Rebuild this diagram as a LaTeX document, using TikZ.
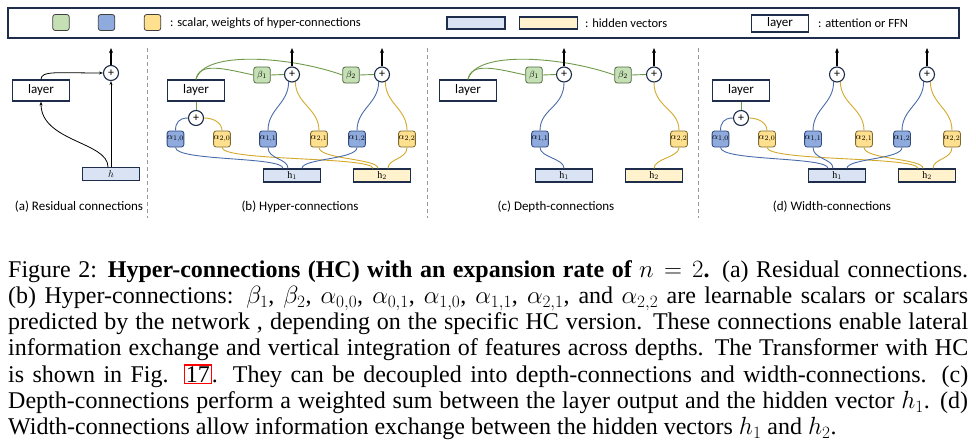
\documentclass[tikz,border=0pt]{standalone}
\usepackage{fontspec}
\setmainfont{Liberation Serif}
\newfontfamily\calibri{Carlito}
\usetikzlibrary{arrows.meta}

\definecolor{navy}{HTML}{1E2D4B}
\definecolor{hblue}{HTML}{DAE3F3}
\definecolor{hyellow}{HTML}{FFF2CC}
\definecolor{ablue}{HTML}{8FAADC}
\definecolor{ablueline}{HTML}{2E4A7D}
\definecolor{ayellow}{HTML}{FFE08F}
\definecolor{ayellowline}{HTML}{7F6A2E}
\definecolor{bgreen}{HTML}{C5E0B4}
\definecolor{bgreenline}{HTML}{4F6B40}
\definecolor{lblue}{HTML}{4A6BAA}
\definecolor{lyellow}{HTML}{D4A82A}
\definecolor{lgreen}{HTML}{6E9A4A}

\newcommand{\linkbox}[1]{{\setlength{\fboxsep}{0.8pt}\setlength{\fboxrule}{1.3pt}\color{red}\fbox{\color{black}#1}}}

\begin{document}
\begin{tikzpicture}[x=1pt,y=1pt]
  \tikzstyle{layerbox}=[draw=navy, line width=1.2pt, fill=white, minimum width=57pt, minimum height=21pt, inner sep=0pt, font=\calibri\fontsize{13}{14}\selectfont]
  \tikzstyle{hbox}=[draw=navy, line width=1.2pt, minimum width=57pt, minimum height=13pt, inner sep=0pt, font=\fontsize{10}{10}\selectfont]
  \tikzstyle{wgt}=[rounded corners=2.5pt, line width=0.8pt, minimum width=16.5pt, minimum height=16pt, inner sep=0pt, font=\fontsize{9.5}{10}\selectfont]
  \tikzstyle{alphaone}=[wgt, fill=ablue, draw=ablueline]
  \tikzstyle{alphatwo}=[wgt, fill=ayellow, draw=ayellowline]
  \tikzstyle{betabox}=[wgt, fill=bgreen, draw=bgreenline]
  \tikzstyle{keysq}=[wgt, draw=black!75]
  \tikzstyle{plusnode}=[circle, draw=navy, line width=1.1pt, fill=white, minimum size=15pt, inner sep=0pt, font=\calibri\fontsize{12}{12}\selectfont]
  \tikzstyle{keytext}=[anchor=west, inner sep=0pt, font=\calibri\fontsize{12.5}{14}\selectfont]
  \tikzstyle{panelcap}=[inner sep=0pt, font=\calibri\fontsize{13}{14}\selectfont]
  \tikzstyle{bline}=[draw=lblue, line width=0.9pt]
  \tikzstyle{yline}=[draw=lyellow, line width=0.9pt]
  \tikzstyle{gline}=[draw=lgreen, line width=0.9pt]
  \tikzstyle{tip}=[-{Stealth[length=4pt,width=3pt]}, line width=0.8pt]
  \tikzstyle{outarrow}=[-{Stealth[length=5pt,width=4pt]}, line width=1.2pt]
  \tikzstyle{sepline}=[draw=black!40, line width=1pt, dash pattern=on 4pt off 3pt]

  \useasboundingbox (0,0) rectangle (976,-445);

  % legend
  \node[draw=navy, line width=1.4pt, minimum width=951pt, minimum height=30pt, inner sep=0pt] (key) at (483.5,-23) {};
  \node[keysq, fill=bgreen] (key_g) at (61,-22.5) {};
  \node[keysq, fill=ablue] (key_b) at (106.5,-22.5) {};
  \node[keysq, fill=ayellow] (key_y) at (152.5,-22.5) {};
  \node[keytext] (key_wtext) at (170,-23) {: scalar, weights of hyper-connections};
  \node[hbox, fill=hblue, minimum width=58pt, minimum height=12pt] (key_h1) at (476,-23) {};
  \node[hbox, fill=hyellow, minimum width=58pt, minimum height=12pt] (key_h2) at (548.5,-23) {};
  \node[keytext] (key_htext) at (585,-23) {: hidden vectors};
  \node[layerbox, minimum height=17pt] (key_layer) at (780,-23.5) {layer};
  \node[keytext] (key_ltext) at (818,-23) {: attention or FFN};

  % separators
  \draw[sepline] (147,-48) -- (147,-218);
  \draw[sepline] (427,-48) -- (427,-218);
  \draw[sepline] (698,-48) -- (698,-218);

  % (a) residual
  \node[layerbox] (A_layer) at (41,-90.5) {layer};
  \node[plusnode] (A_plus) at (111,-73) {+};
  \node[hbox, fill=hblue] (A_h) at (111,-174) {$h$};
  \coordinate (A_out) at (111,-48);
  \draw[outarrow] (A_plus.north) -- (A_out);
  \draw[tip] (A_h.north) -- (A_plus.south);
  \draw[tip] (A_layer.north) .. controls +(0,9) and +(-45,0) .. (A_plus.west);
  \draw[tip] ([xshift=-3pt]A_h.north) .. controls +(0,25) and +(0,-40) .. (A_layer.south);
  \node[panelcap] (A_cap) at (79,-207) {(a) Residual connections};

  % (b) hyper-connections
  \node[layerbox] (B_layer) at (196,-90.5) {layer};
  \node[plusnode] (B_p0) at (196,-118) {+};
  \node[plusnode] (B_p1) at (292,-74.5) {+};
  \node[plusnode] (B_p2) at (382,-74.5) {+};
  \node[betabox] (B_b1) at (262,-75) {$\beta_1$};
  \node[betabox] (B_b2) at (351,-75) {$\beta_2$};
  \node[alphaone] (B_a10) at (175.5,-139) {$\alpha_{1,0}$};
  \node[alphatwo] (B_a20) at (222,-139) {$\alpha_{2,0}$};
  \node[alphaone] (B_a11) at (268,-139) {$\alpha_{1,1}$};
  \node[alphatwo] (B_a21) at (319,-139) {$\alpha_{2,1}$};
  \node[alphaone] (B_a12) at (357,-139) {$\alpha_{1,2}$};
  \node[alphatwo] (B_a22) at (407,-139) {$\alpha_{2,2}$};
  \node[hbox, fill=hblue] (B_h1) at (292,-175.5) {$\mathrm{h}_1$};
  \node[hbox, fill=hyellow] (B_h2) at (382,-175.5) {$\mathrm{h}_2$};
  \coordinate (B_o1) at (292,-48);
  \coordinate (B_o2) at (382,-48);

  \draw[gline] (B_layer.north) .. controls +(3,18) and +(-28,6) .. (B_b1.west);
  \draw[gline] (B_layer.north) .. controls +(8,30) and +(-50,18) .. (B_b2.west);
  \draw[gline] (B_b1.east) -- (B_p1.west);
  \draw[gline] (B_b2.east) -- (B_p2.west);
  \draw[gline] (B_layer.south) -- (B_p0.north);
  \draw[bline] (B_p0.west) .. controls +(-9,0) and +(0,8) .. (B_a10.north);
  \draw[yline] (B_p0.east) .. controls +(9,0) and +(0,8) .. (B_a20.north);
  \draw[bline] (B_p1.-115) .. controls +(0,-22) and +(0,22) .. (B_a11.north);
  \draw[yline] (B_p1.-65) .. controls +(0,-22) and +(0,22) .. (B_a21.north);
  \draw[bline] (B_p2.-115) .. controls +(0,-22) and +(0,22) .. (B_a12.north);
  \draw[yline] (B_p2.-65) .. controls +(0,-22) and +(0,22) .. (B_a22.north);
  \draw[bline] (B_a10.south) .. controls +(0,-14) and +(0,12) .. ([xshift=-9pt]B_h1.north);
  \draw[yline] (B_a20.south) .. controls +(0,-14) and +(0,12) .. ([xshift=-9pt]B_h2.north);
  \draw[bline] (B_a11.south) .. controls +(0,-12) and +(0,10) .. ([xshift=-4pt]B_h1.north);
  \draw[yline] (B_a21.south) .. controls +(0,-12) and +(0,10) .. ([xshift=-4pt]B_h2.north);
  \draw[bline] (B_a12.south) .. controls +(0,-12) and +(0,10) .. ([xshift=10pt]B_h1.north);
  \draw[yline] (B_a22.south) .. controls +(0,-12) and +(0,10) .. ([xshift=6pt]B_h2.north);
  \draw[outarrow] (B_p1.north) -- (B_o1);
  \draw[outarrow] (B_p2.north) -- (B_o2);
  \node[panelcap] (B_cap) at (300,-207) {(b) Hyper-connections};

  % (c) depth-connections
  \begin{scope}[xshift=272pt]
  \node[layerbox] (C_layer) at (196,-90.5) {layer};
  \node[plusnode] (C_p1) at (292,-74.5) {+};
  \node[plusnode] (C_p2) at (382,-74.5) {+};
  \node[betabox] (C_b1) at (262,-75) {$\beta_1$};
  \node[betabox] (C_b2) at (351,-75) {$\beta_2$};
  \node[alphaone] (C_a11) at (268,-139) {$\alpha_{1,1}$};
  \node[alphatwo] (C_a22) at (407,-139) {$\alpha_{2,2}$};
  \node[hbox, fill=hblue] (C_h1) at (292,-175.5) {$\mathrm{h}_1$};
  \node[hbox, fill=hyellow] (C_h2) at (382,-175.5) {$\mathrm{h}_2$};
  \coordinate (C_o1) at (292,-48);
  \coordinate (C_o2) at (382,-48);

  \draw[gline] (C_layer.north) .. controls +(3,18) and +(-28,6) .. (C_b1.west);
  \draw[gline] (C_layer.north) .. controls +(8,30) and +(-50,18) .. (C_b2.west);
  \draw[gline] (C_b1.east) -- (C_p1.west);
  \draw[gline] (C_b2.east) -- (C_p2.west);
  \draw[bline] (C_p1.south) .. controls +(0,-25) and +(0,22) .. (C_a11.north);
  \draw[yline] (C_p2.south) .. controls +(0,-25) and +(0,22) .. (C_a22.north);
  \draw[bline] (C_a11.south) .. controls +(0,-10) and +(0,10) .. (C_h1.north);
  \draw[yline] (C_a22.south) .. controls +(0,-10) and +(0,10) .. (C_h2.north);
  \draw[outarrow] (C_p1.north) -- (C_o1);
  \draw[outarrow] (C_p2.north) -- (C_o2);
  \node[panelcap] (C_cap) at (284,-207) {(c) Depth-connections};
  \end{scope}

  % (d) width-connections
  \begin{scope}[xshift=545pt]
  \node[layerbox] (D_layer) at (196,-90.5) {layer};
  \node[plusnode] (D_p0) at (196,-118) {+};
  \node[plusnode] (D_p1) at (292,-74.5) {+};
  \node[plusnode] (D_p2) at (382,-74.5) {+};
  \node[alphaone] (D_a10) at (175.5,-139) {$\alpha_{1,0}$};
  \node[alphatwo] (D_a20) at (222,-139) {$\alpha_{2,0}$};
  \node[alphaone] (D_a11) at (268,-139) {$\alpha_{1,1}$};
  \node[alphatwo] (D_a21) at (319,-139) {$\alpha_{2,1}$};
  \node[alphaone] (D_a12) at (357,-139) {$\alpha_{1,2}$};
  \node[alphatwo] (D_a22) at (407,-139) {$\alpha_{2,2}$};
  \node[hbox, fill=hblue] (D_h1) at (292,-175.5) {$\mathrm{h}_1$};
  \node[hbox, fill=hyellow] (D_h2) at (382,-175.5) {$\mathrm{h}_2$};
  \coordinate (D_o1) at (292,-48);
  \coordinate (D_o2) at (382,-48);

  \draw[gline] (D_layer.south) -- (D_p0.north);
  \draw[bline] (D_p0.west) .. controls +(-9,0) and +(0,8) .. (D_a10.north);
  \draw[yline] (D_p0.east) .. controls +(9,0) and +(0,8) .. (D_a20.north);
  \draw[bline] (D_p1.-115) .. controls +(0,-22) and +(0,22) .. (D_a11.north);
  \draw[yline] (D_p1.-65) .. controls +(0,-22) and +(0,22) .. (D_a21.north);
  \draw[bline] (D_p2.-115) .. controls +(0,-22) and +(0,22) .. (D_a12.north);
  \draw[yline] (D_p2.-65) .. controls +(0,-22) and +(0,22) .. (D_a22.north);
  \draw[bline] (D_a10.south) .. controls +(0,-14) and +(0,12) .. ([xshift=-9pt]D_h1.north);
  \draw[yline] (D_a20.south) .. controls +(0,-14) and +(0,12) .. ([xshift=-9pt]D_h2.north);
  \draw[bline] (D_a11.south) .. controls +(0,-12) and +(0,10) .. ([xshift=-4pt]D_h1.north);
  \draw[yline] (D_a21.south) .. controls +(0,-12) and +(0,10) .. ([xshift=-4pt]D_h2.north);
  \draw[bline] (D_a12.south) .. controls +(0,-12) and +(0,10) .. ([xshift=10pt]D_h1.north);
  \draw[yline] (D_a22.south) .. controls +(0,-12) and +(0,10) .. ([xshift=6pt]D_h2.north);
  \draw[outarrow] (D_p1.north) -- (D_o1);
  \draw[outarrow] (D_p2.north) -- (D_o2);
  \node[panelcap] (D_cap) at (287,-207) {(d) Width-connections};
  \end{scope}

  % figure caption
  \node[anchor=base west, inner sep=0pt, text width=960pt, align=justify, font=\fontsize{24}{26.3}\selectfont] (caption) at (8,-277) {Figure 2: \textbf{Hyper-connections (HC) with an expansion rate of $n=2$.} (a) Residual connections.\linebreak
  (b) Hyper-connections: $\beta_1$, $\beta_2$, $\alpha_{0,0}$, $\alpha_{0,1}$, $\alpha_{1,0}$, $\alpha_{1,1}$, $\alpha_{2,1}$, and $\alpha_{2,2}$ are learnable scalars or scalars\linebreak
  predicted by the network , depending on the specific HC version. These connections enable lateral\linebreak
  information exchange and vertical integration of features across depths. The Transformer with HC\linebreak
  is shown in Fig. \linkbox{17}. They can be decoupled into depth-connections and width-connections. (c)\linebreak
  Depth-connections perform a weighted sum between the layer output and the hidden vector $h_1$. (d)\linebreak
  Width-connections allow information exchange between the hidden vectors $h_1$ and $h_2$.};
\end{tikzpicture}
\end{document}
